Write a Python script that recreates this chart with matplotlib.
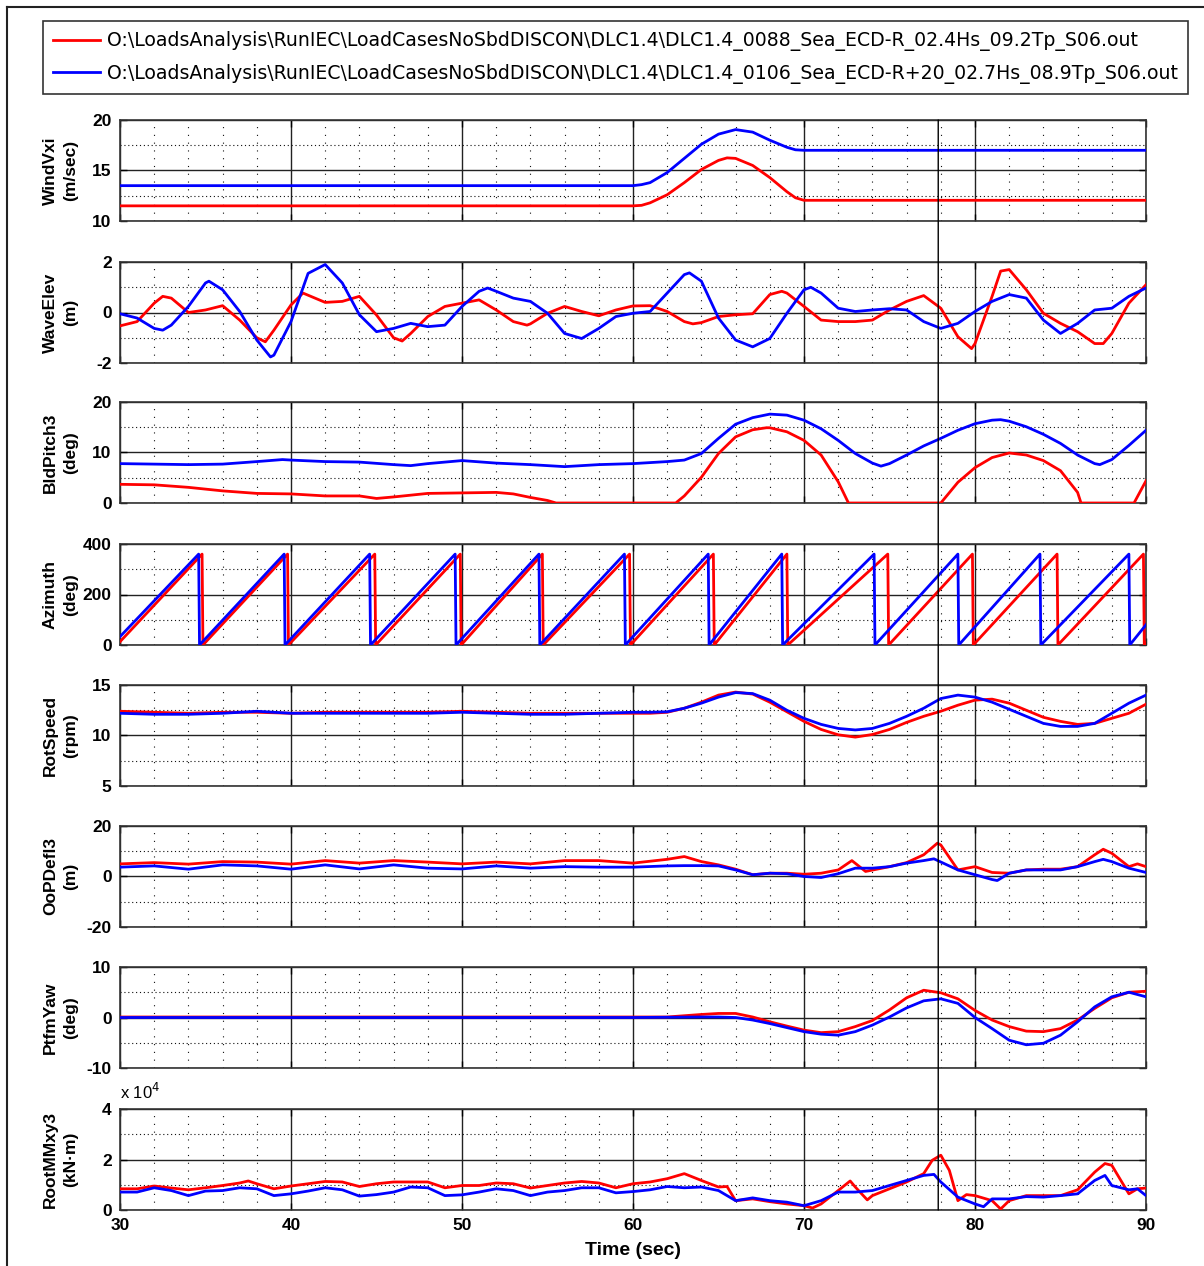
import numpy as np
import matplotlib
matplotlib.use("Agg")
import matplotlib.pyplot as plt
from matplotlib.lines import Line2D
from matplotlib.patches import ConnectionPatch

# ---------------- data ----------------
legend_labels = [
    r"O:\LoadsAnalysis\RunIEC\LoadCasesNoSbdDISCON\DLC1.4\DLC1.4_0088_Sea_ECD-R_02.4Hs_09.2Tp_S06.out",
    r"O:\LoadsAnalysis\RunIEC\LoadCasesNoSbdDISCON\DLC1.4\DLC1.4_0106_Sea_ECD-R+20_02.7Hs_08.9Tp_S06.out",
]
ylabels = ["WindVxi\n(m/sec)", "WaveElev\n(m)", "BldPitch3\n(deg)", "Azimuth\n(deg)",
           "RotSpeed\n(rpm)", "OoPDefl3\n(m)", "PtfmYaw\n(deg)", "RootMMxy3\n(kN\u00b7m)"]
yticks = [[10, 15, 20], [-2, 0, 2], [0, 10, 20], [0, 200, 400],
          [5, 10, 15], [-20, 0, 20], [-10, 0, 10], [0, 2, 4]]
xticks = [30, 40, 50, 60, 70, 80, 90]
cursor_time = 77.85

# WindVxi
wind_red_t = [30, 60, 60.5, 61, 62, 63, 64, 65, 65.5, 66, 67, 68, 69, 69.5, 70, 90]
wind_red = [11.5, 11.5, 11.55, 11.8, 12.6, 13.8, 15.1, 16.0, 16.25, 16.2, 15.5, 14.3, 12.9, 12.3, 12.05, 12.05]
wind_blue_t = [30, 60, 60.5, 61, 62, 63, 64, 65, 66, 67, 68, 69, 69.5, 70, 90]
wind_blue = [13.5, 13.5, 13.6, 13.8, 14.8, 16.2, 17.6, 18.6, 19.05, 18.8, 18.0, 17.3, 17.05, 17.0, 17.0]

# WaveElev
wave_red_t = [30, 31, 32, 32.5, 33, 34, 35, 36, 37, 38, 38.5, 39, 40, 40.7, 42, 43, 44, 45, 46, 46.5, 47,
              48, 49, 50, 51, 52, 53, 53.8, 54, 55, 56, 57, 58, 59, 60, 61, 62, 63, 63.5, 64, 65, 66, 67,
              68, 68.7, 69, 70, 71, 72, 73, 74, 75, 76, 77, 78, 79, 79.8, 80, 81, 81.5, 82, 83, 84, 85,
              86, 87, 87.5, 88, 89, 90]
wave_red = [-0.53, -0.36, 0.37, 0.64, 0.57, 0.0, 0.1, 0.27, -0.3, -1.0, -1.16, -0.7, 0.3, 0.77, 0.4, 0.44,
            0.64, -0.1, -1.0, -1.13, -0.83, -0.16, 0.24, 0.37, 0.5, 0.1, -0.36, -0.5, -0.45, -0.03, 0.24,
            0.04, -0.13, 0.1, 0.26, 0.27, 0.04, -0.36, -0.45, -0.4, -0.16, -0.09, -0.05, 0.71, 0.84, 0.77,
            0.24, -0.3, -0.36, -0.36, -0.3, 0.1, 0.44, 0.67, 0.17, -0.96, -1.43, -1.23, 0.64, 1.64, 1.7,
            0.9, -0.03, -0.43, -0.76, -1.23, -1.23, -0.83, 0.37, 1.1]
wave_blue_t = [30, 31, 32, 32.5, 33, 34, 35, 35.2, 36, 37, 38, 38.8, 39, 40, 41, 42, 43, 44, 45, 46, 47, 48,
               49, 50, 51, 51.5, 52, 53, 54, 55, 56, 57, 58, 59, 60, 61, 62, 63, 63.3, 64, 65, 66, 67, 68,
               69, 70, 70.4, 71, 72, 73, 74, 75, 76, 77, 78, 79, 80, 81, 82, 83, 84, 85, 86, 87, 88, 89, 90]
wave_blue = [-0.05, -0.22, -0.63, -0.7, -0.5, 0.24, 1.17, 1.24, 0.9, 0.04, -1.09, -1.76, -1.69, -0.36, 1.55,
             1.9, 1.17, -0.09, -0.76, -0.63, -0.43, -0.56, -0.5, 0.24, 0.84, 0.97, 0.84, 0.57, 0.44, -0.03,
             -0.83, -1.03, -0.63, -0.16, -0.03, 0.04, 0.77, 1.5, 1.57, 1.24, -0.22, -1.09, -1.36, -1.03,
             -0.03, 0.9, 1.0, 0.77, 0.17, 0.04, 0.1, 0.15, 0.1, -0.36, -0.63, -0.43, 0.04, 0.44, 0.71, 0.57,
             -0.3, -0.83, -0.43, 0.1, 0.17, 0.64, 0.97]

# BldPitch3
pitch_red_t = [30, 32, 34, 36, 38, 40, 42, 44, 45, 46, 48, 50, 52, 53, 54, 55, 55.5, 62.5, 63, 64, 65, 66,
               67, 67.8, 68, 69, 70, 71, 72, 72.6, 78, 79, 80, 81, 82, 83, 84, 85, 86, 86.2, 89.3, 90]
pitch_red = [3.7, 3.6, 3.1, 2.4, 1.9, 1.8, 1.4, 1.4, 0.9, 1.2, 1.9, 2.0, 2.1, 1.8, 1.1, 0.5, 0.0, 0.0, 1.4,
             5.1, 9.8, 13.1, 14.5, 14.9, 14.9, 14.1, 12.4, 9.5, 4.2, 0.0, 0.0, 4.1, 7.0, 9.0, 9.9, 9.5, 8.4,
             6.4, 2.1, 0.0, 0.0, 4.4]
pitch_blue_t = [30, 32, 34, 36, 38, 39.5, 40, 42, 44, 46, 47, 48, 50, 52, 54, 56, 58, 60, 62, 63, 64, 65,
                66, 67, 68, 69, 70, 71, 72, 73, 74, 74.5, 75, 76, 77, 78, 79, 80, 81, 81.5, 82, 83, 84, 85,
                86, 87, 87.3, 88, 89, 90]
pitch_blue = [7.8, 7.7, 7.6, 7.7, 8.2, 8.6, 8.5, 8.2, 8.1, 7.6, 7.4, 7.8, 8.4, 7.9, 7.6, 7.2, 7.6, 7.8, 8.2,
              8.5, 9.8, 12.8, 15.6, 16.9, 17.6, 17.4, 16.4, 14.7, 12.4, 9.8, 7.9, 7.3, 7.8, 9.5, 11.3, 12.8,
              14.4, 15.7, 16.4, 16.5, 16.2, 15.1, 13.6, 11.8, 9.5, 7.8, 7.6, 8.6, 11.4, 14.4]

# Azimuth (sawtooth, wrap points)
az_red_t = [30, 34.8, 34.85, 39.8, 39.85, 44.9, 44.95, 49.9, 49.95, 54.7, 54.75, 59.8, 59.85, 64.7, 64.75,
            69.0, 69.05, 74.9, 74.95, 79.85, 79.9, 84.8, 84.85, 89.85, 89.9, 90]
az_red = [13, 360, 0, 360, 0, 360, 0, 360, 0, 360, 0, 360, 0, 360, 0, 360, 0, 360, 0, 360, 0, 360, 0,
          360, 0, 7]
az_blue_t = [30, 34.6, 34.65, 39.6, 39.65, 44.6, 44.65, 49.6, 49.65, 54.5, 54.55, 59.5, 59.55, 64.4, 64.45,
             68.7, 68.75, 74.1, 74.15, 79.0, 79.05, 83.8, 83.85, 89.0, 89.05, 90]
az_blue = [33, 360, 0, 360, 0, 360, 0, 360, 0, 360, 0, 360, 0, 360, 0, 360, 0, 360, 0, 360, 0, 360, 0,
           360, 0, 80]

# RotSpeed
rot_t = [30, 32, 34, 36, 38, 40, 42, 44, 46, 48, 50, 52, 54, 56, 58, 60, 61, 62, 63, 64, 65, 66, 67, 68,
         69, 70, 71, 72, 73, 74, 75, 76, 77, 78, 79, 80, 81, 82, 83, 84, 85, 86, 87, 88, 89, 90]
rot_red = [12.4, 12.3, 12.2, 12.3, 12.3, 12.2, 12.3, 12.3, 12.3, 12.3, 12.4, 12.3, 12.2, 12.2, 12.2, 12.2,
           12.2, 12.3, 12.7, 13.3, 14.0, 14.3, 14.1, 13.3, 12.35, 11.4, 10.6, 10.07, 9.84, 10.1, 10.6,
           11.3, 11.9, 12.4, 13.0, 13.5, 13.6, 13.2, 12.5, 11.8, 11.4, 11.1, 11.2, 11.7, 12.2, 13.1]
rot_blue = [12.2, 12.1, 12.1, 12.2, 12.4, 12.2, 12.2, 12.2, 12.2, 12.2, 12.3, 12.2, 12.1, 12.1, 12.2, 12.3,
            12.3, 12.35, 12.7, 13.2, 13.8, 14.25, 14.15, 13.5, 12.5, 11.7, 11.1, 10.7, 10.55, 10.7, 11.2,
            11.9, 12.7, 13.66, 14.0, 13.8, 13.3, 12.6, 11.9, 11.2, 10.9, 10.9, 11.2, 12.2, 13.2, 14.0]

# OoPDefl3
oop_red_t = [30, 32, 34, 36, 38, 40, 42, 44, 46, 48, 50, 52, 54, 56, 58, 60, 62, 63, 64, 65, 66, 67, 68,
             69, 70, 71, 72, 72.8, 73.6, 75, 76, 77, 77.8, 78, 79, 80, 81, 82, 83, 84, 85, 86, 87, 87.5, 88,
             89, 89.5, 90]
oop_red = [5.0, 5.5, 4.9, 5.9, 5.7, 4.9, 6.3, 5.3, 6.3, 5.7, 5.0, 5.7, 5.0, 6.3, 6.3, 5.3, 6.8, 7.9, 5.9,
           4.6, 2.9, 0.7, 1.3, 1.3, 0.9, 1.3, 2.6, 6.3, 2.0, 3.9, 5.5, 8.6, 13.2, 12.5, 2.6, 3.9, 1.6, 1.3,
           2.6, 2.9, 2.9, 3.9, 8.6, 10.8, 9.2, 3.9, 5.0, 3.9]
oop_blue_t = [30, 32, 34, 36, 38, 40, 42, 44, 46, 48, 50, 52, 54, 56, 58, 60, 62, 63, 64, 65, 66, 67, 68,
              69, 70, 71, 72, 73, 74, 75, 76, 77, 77.6, 79, 80, 81, 81.3, 82, 83, 84, 85, 86, 87, 87.5, 88,
              89, 90]
oop_blue = [3.7, 4.2, 2.9, 4.6, 4.2, 2.9, 4.6, 3.0, 4.6, 3.3, 3.0, 4.2, 3.3, 3.9, 3.7, 3.7, 4.2, 4.3, 4.3,
            4.2, 2.6, 0.7, 1.3, 1.1, 0.0, -0.4, 1.1, 3.3, 3.3, 3.9, 5.3, 6.3, 7.0, 2.6, 0.7, -1.2, -1.6, 1.3,
            2.6, 2.6, 2.6, 3.9, 5.9, 6.8, 5.9, 3.3, 1.6]

# PtfmYaw
yaw_red_t = [30, 40, 50, 60, 62, 64, 65, 66, 67, 68, 69, 70, 71, 72, 73, 74, 75, 76, 77, 78, 79, 80, 81,
             82, 83, 84, 85, 86, 87, 88, 89, 90]
yaw_red = [0.1, 0.1, 0.1, 0.1, 0.1, 0.6, 0.8, 0.8, 0.1, -0.85, -1.7, -2.5, -3.0, -2.8, -1.8, -0.6, 1.5,
           3.9, 5.4, 4.9, 3.7, 1.4, -0.5, -1.8, -2.7, -2.8, -2.2, -0.5, 1.8, 3.9, 5.0, 5.2]
yaw_blue_t = [30, 40, 50, 60, 64, 65, 66, 67, 68, 69, 70, 71, 72, 73, 74, 75, 76, 77, 78, 79, 80, 81, 82,
              83, 84, 85, 86, 87, 88, 89, 90]
yaw_blue = [0.0, 0.0, 0.0, 0.0, 0.1, 0.1, 0.0, -0.5, -1.2, -2.0, -2.8, -3.3, -3.5, -2.8, -1.5, 0.1, 1.9,
            3.3, 3.7, 2.8, 0.0, -2.2, -4.5, -5.4, -5.1, -3.5, -0.85, 2.1, 4.1, 5.0, 4.1]

# RootMMxy3 (units of 1e4 kN*m)
root_red_t = [30, 31, 32, 33, 34, 35, 36, 37, 37.5, 38, 39, 40, 41, 42, 43, 44, 45, 46, 47, 48, 49, 50,
              51, 52, 53, 54, 55, 56, 57, 58, 59, 60, 61, 62, 63, 64, 65, 65.5, 66, 67, 68, 69, 70, 70.5,
              71, 72, 72.7, 73, 73.7, 74, 75, 76, 77, 77.5, 78, 78.5, 79, 79.5, 80, 81, 81.5, 82, 83, 84,
              85, 86, 87, 87.6, 88, 89, 89.5, 90]
root_red = [0.84, 0.84, 0.95, 0.87, 0.8, 0.88, 0.97, 1.07, 1.15, 1.04, 0.84, 0.95, 1.04, 1.13, 1.11, 0.93,
            1.04, 1.11, 1.11, 1.11, 0.88, 0.97, 0.97, 1.07, 1.04, 0.87, 0.97, 1.07, 1.13, 1.07, 0.88, 1.04,
            1.11, 1.24, 1.44, 1.17, 0.91, 0.93, 0.37, 0.44, 0.33, 0.24, 0.17, 0.08, 0.24, 0.77, 1.15, 0.91,
            0.4, 0.57, 0.84, 1.11, 1.44, 1.97, 2.17, 1.57, 0.37, 0.61, 0.57, 0.37, 0.04, 0.37, 0.57, 0.57,
            0.57, 0.8, 1.5, 1.84, 1.77, 0.64, 0.84, 0.87]
root_blue_t = [30, 31, 32, 33, 34, 35, 36, 37, 38, 39, 40, 41, 42, 43, 44, 45, 46, 47, 48, 49, 50, 51, 52,
               53, 54, 55, 56, 57, 58, 59, 60, 61, 62, 63, 64, 65, 66, 67, 68, 69, 70, 71, 72, 73, 74, 75,
               76, 77, 77.6, 78, 79, 80, 80.5, 81, 82, 83, 84, 85, 86, 87, 87.6, 88, 89, 89.5, 90]
root_blue = [0.71, 0.71, 0.88, 0.77, 0.57, 0.75, 0.77, 0.88, 0.84, 0.57, 0.64, 0.75, 0.88, 0.8, 0.55,
             0.61, 0.71, 0.91, 0.88, 0.57, 0.6, 0.71, 0.84, 0.77, 0.57, 0.71, 0.77, 0.88, 0.88, 0.68, 0.73,
             0.8, 0.93, 0.88, 0.91, 0.77, 0.37, 0.48, 0.37, 0.31, 0.17, 0.37, 0.71, 0.71, 0.77, 0.97, 1.17,
             1.37, 1.41, 1.11, 0.51, 0.24, 0.13, 0.44, 0.44, 0.53, 0.51, 0.57, 0.64, 1.17, 1.37, 0.97, 0.8,
             0.84, 0.57]

series = [
    ((wind_red_t, wind_red), (wind_blue_t, wind_blue)),
    ((wave_red_t, wave_red), (wave_blue_t, wave_blue)),
    ((pitch_red_t, pitch_red), (pitch_blue_t, pitch_blue)),
    ((az_red_t, az_red), (az_blue_t, az_blue)),
    ((rot_t, rot_red), (rot_t, rot_blue)),
    ((oop_red_t, oop_red), (oop_blue_t, oop_blue)),
    ((yaw_red_t, yaw_red), (yaw_blue_t, yaw_blue)),
    ((root_red_t, root_red), (root_blue_t, root_blue)),
]

# ---------------- figure ----------------
W, H = 1204, 1266
plt.rcParams['font.family'] = ['Liberation Sans', 'DejaVu Sans']
plt.rcParams['axes.unicode_minus'] = False
fig = plt.figure(figsize=(W / 100, H / 100), dpi=100)

ax_left, ax_right = 120, 1146
ax_tops = [120, 262, 402, 544, 685, 826, 967, 1109]
ax_h = 101

axes = []
for i, top in enumerate(ax_tops):
    ax = fig.add_axes([ax_left / W, 1 - (top + ax_h) / H, (ax_right - ax_left) / W, ax_h / H])
    (rt, rv), (bt, bv) = series[i]
    lr, = ax.plot(rt, rv, color='#ff0000', lw=2.0, zorder=3)
    lb, = ax.plot(bt, bv, color='#0000ff', lw=2.0, zorder=4)
    yt = yticks[i]
    ax.set_xlim(30, 90)
    ax.set_ylim(yt[0], yt[-1])
    ax.set_xticks(xticks)
    ax.set_xticks(np.arange(30, 91, 2), minor=True)
    ax.set_yticks(yt)
    ax.set_yticks([(yt[0] + yt[1]) / 2, (yt[1] + yt[2]) / 2], minor=True)
    ax.set_axisbelow(True)
    ax.grid(which='major', color='#222222', lw=1.0, ls='-')
    ax.xaxis.grid(which='minor', color='#111111', lw=0.8, ls=(0, (1, 6)))
    ax.yaxis.grid(which='minor', color='#111111', lw=0.8, ls=(0, (1, 2.5)))
    ax.tick_params(which='major', direction='in', length=5, width=1, top=True, right=True,
                   labelsize=12.5, pad=6)
    ax.tick_params(which='minor', length=0)
    for lab in ax.get_yticklabels() + ax.get_xticklabels():
        lab.set_fontweight('bold')
    for sp in ax.spines.values():
        sp.set_color('#333333')
        sp.set_linewidth(1.2)
    if i < 7:
        ax.tick_params(labelbottom=False)
    ax.set_ylabel(ylabels[i], fontsize=12.5, fontweight='bold', ha='center', va='center',
                  linespacing=1.45)
    ax.yaxis.set_label_coords(-0.058, 0.5)
    axes.append(ax)
    if i == 0:
        handles = [lr, lb]

axes[-1].set_xlabel("Time (sec)", fontsize=14, fontweight='bold', labelpad=6)
axes[-1].text(0.0, 1.07, r"x 10$^4$", transform=axes[-1].transAxes, fontsize=12,
              ha='left', va='bottom')

# cursor line across all panels
con = ConnectionPatch(xyA=(cursor_time, yticks[0][-1]), coordsA=axes[0].transData,
                      xyB=(cursor_time, yticks[-1][0]), coordsB=axes[-1].transData,
                      color='black', lw=1.0, zorder=10)
fig.add_artist(con)

# legend
leg = fig.legend(handles, legend_labels, loc='upper left',
                 bbox_to_anchor=(43 / W, 1 - 21 / H), bbox_transform=fig.transFigure,
                 prop={'family': 'DejaVu Sans', 'size': 13.55}, frameon=True, fancybox=False,
                 edgecolor='#333333', framealpha=1, borderaxespad=0, handlelength=2.5,
                 handletextpad=0.35, borderpad=0.55, labelspacing=0.65)
leg.get_frame().set_linewidth(1.2)

# figure border
fig.add_artist(Line2D([7 / W, 1.0], [1 - 7 / H, 1 - 7 / H], transform=fig.transFigure,
                      color='#222222', lw=1.5))
fig.add_artist(Line2D([7 / W, 7 / W], [1 - 7 / H, 0.0], transform=fig.transFigure,
                      color='#222222', lw=1.5))

fig.savefig("out.png", dpi=100)
